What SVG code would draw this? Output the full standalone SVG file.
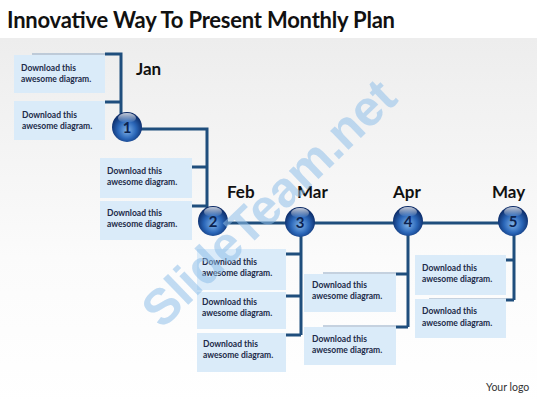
<svg xmlns="http://www.w3.org/2000/svg" width="537" height="403" viewBox="0 0 537 403">
<defs>
<linearGradient id="bg" x1="0" y1="0" x2="0" y2="1">
<stop offset="0" stop-color="#ededed"/>
<stop offset="0.6" stop-color="#fbfbfb"/>
<stop offset="1" stop-color="#ffffff"/>
</linearGradient>
<radialGradient id="ball" cx="50%" cy="58%" r="55%" fx="50%" fy="62%">
<stop offset="0" stop-color="#7fb2e8"/>
<stop offset="0.55" stop-color="#2a66b8"/>
<stop offset="1" stop-color="#0b2a66"/>
</radialGradient>
<linearGradient id="gloss" x1="0" y1="0" x2="0" y2="1">
<stop offset="0" stop-color="#ffffff" stop-opacity="0.75"/>
<stop offset="1" stop-color="#ffffff" stop-opacity="0"/>
</linearGradient>
<style>
.box{fill:#daebf9;}
.bt{font-family:Lato,"Liberation Sans",sans-serif;font-weight:bold;font-size:8.5px;fill:#1c2a48;}
.mon{font-family:Lato,"Liberation Sans",sans-serif;font-weight:bold;font-size:17px;fill:#111;}
.num{font-family:Lato,"Liberation Sans",sans-serif;font-weight:bold;font-size:15px;fill:#0c2350;text-anchor:middle;}
.ln{fill:none;stroke:#1f4e7d;stroke-width:3;}
.thin{fill:none;stroke:#8da6c2;stroke-width:1;}
</style>
</defs>
<rect x="0" y="0" width="537" height="403" fill="#ffffff"/>
<rect x="0" y="38" width="537" height="365" fill="url(#bg)"/>
<text x="7" y="28" font-family="Lato,'Liberation Sans',sans-serif" font-weight="bold" font-size="22" fill="#111" textLength="388">Innovative Way To Present Monthly Plan</text>

<g id="connectors">
<path class="thin" d="M32,54 H105 M323,273 H396 M323,326 H396 M429,299 H506"/>
<path class="ln" d="M105,54 H121 V115 M105,102 H121"/>
<path class="ln" d="M140,129 H207 V208"/>
<path class="ln" d="M192,167 H207 M192,206 H207"/>
<path class="ln" d="M226,223 H500"/>
<path class="ln" d="M301,236 V335 M286,254 H301 M286,296 H301 M286,335 H301"/>
<path class="ln" d="M408,235 V327 M396,274 H408 M396,327 H408"/>
<path class="ln" d="M514,235 V300 M506,260 H514 M506,300 H514"/>
</g>

<g id="box-a1"><rect class="box" x="14" y="55" width="91" height="38"/><text class="bt" x="21" y="71">Download this</text><text class="bt" x="21" y="82">awesome diagram.</text></g>
<g id="box-a2"><rect class="box" x="14" y="101" width="91" height="39"/><text class="bt" x="22" y="118">Download this</text><text class="bt" x="22" y="129">awesome diagram.</text></g>
<g id="box-b1"><rect class="box" x="100" y="158" width="92" height="40"/><text class="bt" x="107" y="174">Download this</text><text class="bt" x="107" y="185">awesome diagram.</text></g>
<g id="box-b2"><rect class="box" x="100" y="201" width="92" height="39"/><text class="bt" x="107" y="216">Download this</text><text class="bt" x="107" y="227">awesome diagram.</text></g>
<g id="box-c1"><rect class="box" x="197" y="249" width="89" height="41"/><text class="bt" x="202" y="265">Download this</text><text class="bt" x="202" y="276">awesome diagram.</text></g>
<g id="box-c2"><rect class="box" x="197" y="292" width="89" height="37"/><text class="bt" x="202" y="305">Download this</text><text class="bt" x="202" y="316">awesome diagram.</text></g>
<g id="box-c3"><rect class="box" x="197" y="333" width="89" height="39"/><text class="bt" x="203" y="347">Download this</text><text class="bt" x="203" y="358">awesome diagram.</text></g>
<g id="box-d1"><rect class="box" x="304" y="274" width="92" height="38"/><text class="bt" x="312" y="288">Download this</text><text class="bt" x="312" y="299">awesome diagram.</text></g>
<g id="box-d2"><rect class="box" x="304" y="327" width="92" height="38"/><text class="bt" x="312" y="342">Download this</text><text class="bt" x="312" y="353">awesome diagram.</text></g>
<g id="box-e1"><rect class="box" x="415" y="255" width="91" height="40"/><text class="bt" x="422" y="271">Download this</text><text class="bt" x="422" y="282">awesome diagram.</text></g>
<g id="box-e2"><rect class="box" x="415" y="299" width="91" height="39"/><text class="bt" x="422" y="314">Download this</text><text class="bt" x="422" y="326">awesome diagram.</text></g>

<g id="labels">
<text class="mon" x="136" y="75">Jan</text>
<text class="mon" x="227" y="198">Feb</text>
<text class="mon" x="297" y="198">Mar</text>
<text class="mon" x="393" y="198">Apr</text>
<text class="mon" x="492" y="198">May</text>
</g>

<g id="node-1"><circle cx="127" cy="127" r="15" fill="url(#ball)"/><ellipse cx="127" cy="118" rx="9" ry="5" fill="url(#gloss)"/><text class="num" x="127" y="132.5">1</text></g>
<g id="node-2"><circle cx="213" cy="221" r="15" fill="url(#ball)"/><ellipse cx="213" cy="212" rx="9" ry="5" fill="url(#gloss)"/><text class="num" x="213" y="226.5">2</text></g>
<g id="node-3"><circle cx="300" cy="222" r="15" fill="url(#ball)"/><ellipse cx="300" cy="213" rx="9" ry="5" fill="url(#gloss)"/><text class="num" x="300" y="227.5">3</text></g>
<g id="node-4"><circle cx="408" cy="221" r="15" fill="url(#ball)"/><ellipse cx="408" cy="212" rx="9" ry="5" fill="url(#gloss)"/><text class="num" x="408" y="226.5">4</text></g>
<g id="node-5"><circle cx="513" cy="221" r="15" fill="url(#ball)"/><ellipse cx="513" cy="212" rx="9" ry="5" fill="url(#gloss)"/><text class="num" x="513" y="226.5">5</text></g>

<text x="162" y="330" transform="rotate(-44 162 330)" font-family="'Liberation Sans',sans-serif" font-weight="bold" font-size="50" fill="#8fc0ea" fill-opacity="0.55" textLength="330">SlideTeam.net</text>

<text x="486" y="391" font-family="Lato,'Liberation Sans',sans-serif" font-size="10.5" fill="#333">Your logo</text>
</svg>
